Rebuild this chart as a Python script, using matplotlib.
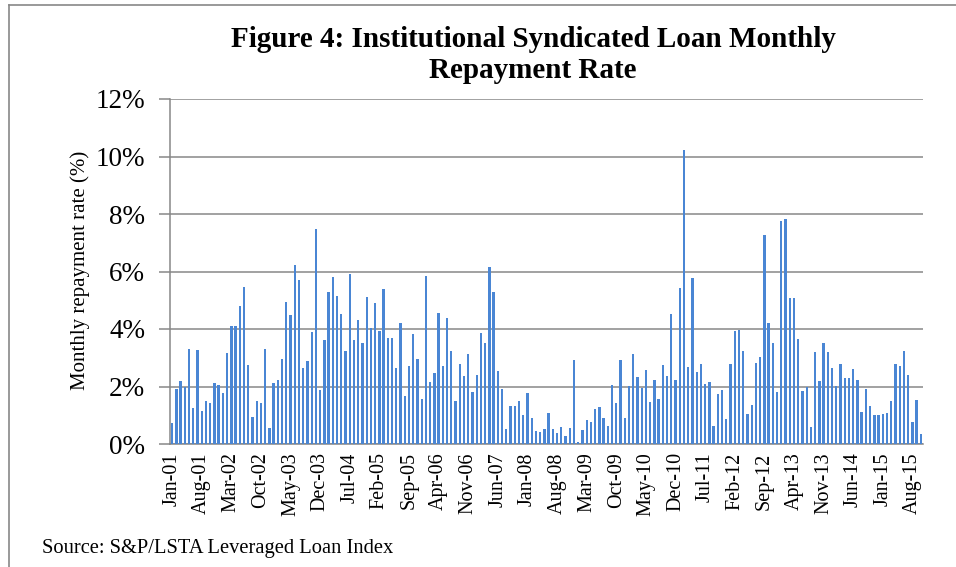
import matplotlib
matplotlib.use("Agg")
import matplotlib.pyplot as plt
from matplotlib.lines import Line2D

# Monthly repayment rate (%), Jan-01 .. Oct-15
rates = [
    0.73, 1.91, 2.20, 1.99, 3.30, 1.26, 3.27, 1.15, 1.51, 1.44, 2.13, 2.06,
    1.78, 3.17, 4.12, 4.12, 4.79, 5.45, 2.74, 0.94, 1.48, 1.44, 3.31, 0.55,
    2.13, 2.23, 2.95, 4.93, 4.47, 6.23, 5.71, 2.65, 2.87, 3.88, 7.49, 1.87,
    3.62, 5.30, 5.81, 5.15, 4.51, 3.22, 5.91, 3.62, 4.31, 3.53, 5.12, 4.02,
    4.90, 3.94, 5.38, 3.67, 3.67, 2.63, 4.22, 1.67, 2.73, 3.81, 2.95, 1.57,
    5.85, 2.16, 2.48, 4.57, 2.72, 4.40, 3.22, 1.50, 2.78, 2.38, 3.14, 1.80,
    2.40, 3.86, 3.53, 6.15, 5.30, 2.53, 1.91, 0.53, 1.33, 1.31, 1.51, 1.00,
    1.78, 0.92, 0.44, 0.43, 0.53, 1.09, 0.53, 0.37, 0.60, 0.29, 0.57, 2.93,
    0.07, 0.50, 0.83, 0.77, 1.23, 1.28, 0.92, 0.63, 2.05, 1.44, 2.93, 0.90,
    2.01, 3.14, 2.34, 1.95, 2.58, 1.47, 2.24, 1.58, 2.76, 2.37, 4.53, 2.22,
    5.42, 10.23, 2.69, 5.77, 2.49, 2.80, 2.07, 2.15, 0.63, 1.74, 1.87, 0.88,
    2.80, 3.93, 3.97, 3.22, 1.03, 1.37, 2.83, 3.02, 7.28, 4.22, 3.50, 1.80,
    7.77, 7.83, 5.08, 5.08, 3.66, 1.85, 1.97, 0.59, 3.19, 2.19, 3.53, 3.21,
    2.66, 2.01, 2.77, 2.30, 2.30, 2.62, 2.24, 1.12, 1.91, 1.31, 1.02, 1.01,
    1.06, 1.08, 1.51, 2.77, 2.70, 3.23, 2.40, 0.77, 1.53, 0.34,
]

tick_labels = [
    "Jan-01", "Aug-01", "Mar-02", "Oct-02", "May-03", "Dec-03", "Jul-04",
    "Feb-05", "Sep-05", "Apr-06", "Nov-06", "Jun-07", "Jan-08", "Aug-08",
    "Mar-09", "Oct-09", "May-10", "Dec-10", "Jul-11", "Feb-12", "Sep-12",
    "Apr-13", "Nov-13", "Jun-14", "Jan-15", "Aug-15",
]
tick_step = 7

yticks = [0, 2, 4, 6, 8, 10, 12]
ytick_labels = ["0%", "2%", "4%", "6%", "8%", "10%", "12%"]

title = "Figure 4: Institutional Syndicated Loan Monthly\nRepayment Rate"
ylabel = "Monthly repayment rate (%)"
source = "Source: S&P/LSTA Leveraged Loan Index"

plt.rcParams["font.family"] = ["Liberation Serif", "DejaVu Serif"]

W, H = 956, 567
fig = plt.figure(figsize=(W / 100, H / 100), dpi=100)
ax = fig.add_axes([170 / W, 1 - 444 / H, (923 - 170) / W, (444 - 99) / H])

grey = "#878787"
x = list(range(len(rates)))
ax.bar(x, rates, width=0.55, color="#4A86D4", linewidth=0, zorder=3)

ax.set_xlim(-0.5, len(rates) - 0.5)
ax.set_ylim(0, 12)
ax.set_yticks(yticks)
ax.set_yticklabels(ytick_labels, fontsize=19.5)
ax.set_xticks(list(range(0, tick_step * len(tick_labels), tick_step)))
ax.set_xticklabels(tick_labels, rotation=90, fontsize=14.5)
ax.tick_params(axis="y", length=8, width=1.1, color=grey, pad=10)
ax.tick_params(axis="x", length=0, pad=6)

ax.grid(axis="y", color=grey, linewidth=1.1, zorder=0)
ax.set_axisbelow(True)
for s in ["top", "right"]:
    ax.spines[s].set_visible(False)
for s in ["left", "bottom"]:
    ax.spines[s].set_color(grey)
    ax.spines[s].set_linewidth(1.1)

fig.text(80 / W, 1 - 270 / H, ylabel, rotation=90, fontsize=15,
         ha="center", va="center")
fig.text(533 / W, 1 - 55 / H, title, fontsize=21, fontweight="bold",
         ha="center", va="center", linespacing=1.15)
fig.text(42 / W, 1 - 548 / H, source, fontsize=14.8, ha="left", va="center")

# outer chart frame (left and top edges visible)
fig.add_artist(Line2D([9 / W, 9 / W], [0, 1 - 5 / H], color=grey, linewidth=1.2,
                      transform=fig.transFigure))
fig.add_artist(Line2D([9 / W, 1], [1 - 5 / H, 1 - 5 / H], color=grey, linewidth=1.2,
                      transform=fig.transFigure))

fig.savefig("out.png", dpi=100, facecolor="white")
